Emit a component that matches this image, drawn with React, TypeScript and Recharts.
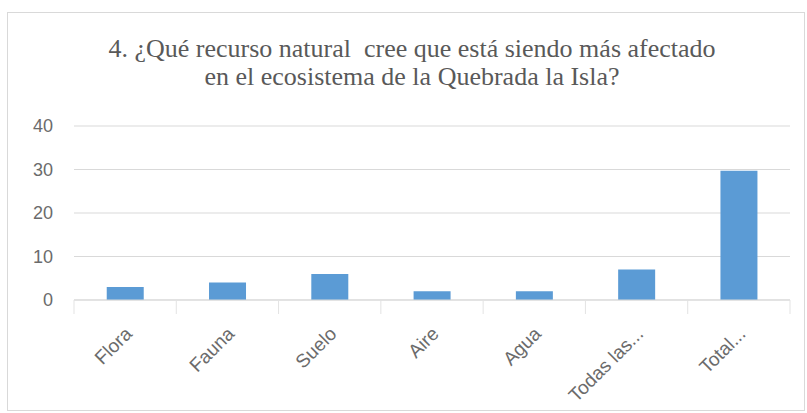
import React from "react";
import { BarChart, Bar, XAxis, YAxis, CartesianGrid } from "recharts";

const categories = ["Flora", "Fauna", "Suelo", "Aire", "Agua", "Todas las...", "Total..."];
const values = [3, 4, 6, 2, 2, 7, 29.7];
const yTicks = [0, 10, 20, 30, 40];
const titleLines = [
  "4. ¿Qué recurso natural  cree que está siendo más afectado",
  "en el ecosistema de la Quebrada la Isla?",
];

const data = categories.map((c, i) => ({ name: c, value: values[i] }));

const XTick = (props: any) => {
  const { x, y, payload, index, width, visibleTicksCount } = props;
  const half = width / (2 * visibleTicksCount);
  const ax = x + 8;
  const ay = y + 35;
  return (
    <g>
      <line x1={x - half} y1={y} x2={x - half} y2={y + 14} stroke="#e3e3e3" />
      {index === visibleTicksCount - 1 && (
        <line x1={x + half} y1={y} x2={x + half} y2={y + 14} stroke="#e3e3e3" />
      )}
      <text
        x={ax}
        y={ay}
        transform={`rotate(-45 ${ax} ${ay})`}
        textAnchor="end"
        fill="#6b6b6b"
        fontSize={19}
        fontFamily="'Liberation Sans', Arial, sans-serif"
      >
        {payload.value}
      </text>
    </g>
  );
};

export default function App() {
  return (
    <div style={{ position: "absolute", left: 0, top: 0, width: 807, height: 413, background: "#fff" }}>
      <div
        style={{
          position: "absolute",
          left: 7,
          top: 12,
          width: 798,
          height: 399,
          border: "1px solid #d9d9d9",
          boxSizing: "border-box",
        }}
      />
      <div
        style={{
          position: "absolute",
          left: 0,
          top: 35,
          width: 824,
          textAlign: "center",
          fontFamily: "'Liberation Serif', 'DejaVu Serif', serif",
          fontSize: 26,
          lineHeight: "28px",
          color: "#595959",
          whiteSpace: "pre",
        }}
      >
        {titleLines.map((t, i) => (
          <div key={i}>{t}</div>
        ))}
      </div>
      <div style={{ position: "absolute", left: 0, top: 0 }}>
        <BarChart
          width={807}
          height={413}
          data={data}
          margin={{ top: 126, right: 17, bottom: 0, left: 0 }}
          barCategoryGap="32%"
        >
          <CartesianGrid horizontal vertical={false} stroke="#d9d9d9" />
          <XAxis
            dataKey="name"
            axisLine={{ stroke: "#d9d9d9" }}
            tickLine={false}
            tickSize={0}
            tickMargin={0}
            interval={0}
            height={113}
            tick={<XTick />}
          />
          <YAxis
            domain={[0, 40]}
            ticks={yTicks}
            width={74}
            axisLine={false}
            tickLine={false}
            tickSize={0}
            tickMargin={21}
            tick={{ fill: "#6b6b6b", fontSize: 18, fontFamily: "'Liberation Sans', Arial, sans-serif" }}
          />
          <Bar dataKey="value" fill="#5b9bd5" isAnimationActive={false} />
        </BarChart>
      </div>
    </div>
  );
}
